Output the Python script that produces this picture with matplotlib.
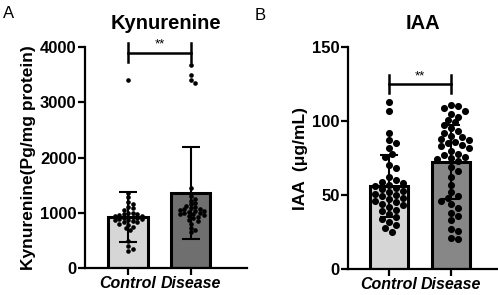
import numpy as np
import matplotlib
matplotlib.use("Agg")
import matplotlib.pyplot as plt

plt.rcParams['font.family'] = ['Liberation Sans', 'DejaVu Sans']

groups = ["Control", "Disease"]

# panel A - Kynurenine (Pg/mg protein)
kyn_mean = [920, 1355]
kyn_sd = [455, 830]
kyn_control = [3400, 1350, 1280, 1200, 1150, 1100, 1080, 1050, 1000, 990, 980, 970,
               960, 950, 940, 930, 920, 910, 900, 890, 880, 870, 860, 850, 840, 830,
               800, 780, 750, 720, 680, 480, 400, 350, 310]
kyn_disease = [3680, 3490, 3400, 3350, 1450, 1300, 1250, 1220, 1180, 1150, 1120, 1100,
               1080, 1070, 1060, 1050, 1040, 1030, 1020, 1000, 990, 980, 970, 960, 950,
               930, 900, 870, 850, 800, 720, 680, 650]

# panel B - IAA (ug/mL)
iaa_mean = [56, 72]
iaa_sd = [21, 25]
iaa_control = [113, 107, 92, 87, 85, 82, 78, 76, 70, 68, 62, 60, 59, 58, 57, 56, 55, 54,
               53, 52, 51, 50, 49, 48, 47, 46, 45, 44, 43, 42, 40, 39, 37, 35, 34, 32,
               30, 28, 25]
iaa_disease = [111, 110, 109, 107, 105, 103, 101, 99, 97, 95, 93, 92, 90, 89, 88, 87, 86,
               85, 84, 83, 82, 80, 78, 77, 76, 75, 74, 73, 69, 66, 62, 57, 52, 49, 48,
               46, 44, 41, 38, 36, 33, 27, 26, 21, 20]


def swarm(ax, x0, vals, diam, maxw):
    # simple deterministic swarm in pixel space
    pts = ax.transData.transform([(x0, v) for v in vals])
    placed = []
    xs = []
    step = diam * 0.5
    cands = [0.0]
    k = 1
    while k * step <= maxw:
        cands += [k * step, -k * step]
        k += 1
    for px, py in pts:
        best = None
        bestd = -1
        for c in cands:
            d = min([np.hypot(c - qx, py - qy) for qx, qy in placed] + [1e9])
            if d >= diam * 0.85:
                best = c
                break
            if d > bestd:
                bestd = d
                bestc = c
        if best is None:
            best = bestc
        placed.append((best, py))
        xs.append(best)
    out = []
    for (px, py), dx in zip(pts, xs):
        out.append(ax.transData.inverted().transform((px + dx, py))[0])
    return out


def panel(ax, means, sds, pts, colors, ylim, yticks, ylabel, title, xlim, width, msize,
          diam, maxw, sig_y, sig_h):
    ax.set_xlim(*xlim)
    ax.set_ylim(*ylim)
    x = np.arange(len(groups))
    ax.bar(x, means, width=width, color=colors, edgecolor="black", linewidth=2.2,
           zorder=2)
    fig.canvas.draw()
    for i, vals in enumerate(pts):
        xs = swarm(ax, x[i], vals, diam, maxw)
        ax.scatter(xs, vals, s=msize, color="black", linewidths=0, zorder=3)
    ax.errorbar(x, means, yerr=sds, fmt="none", ecolor="black", elinewidth=1.5,
                capsize=6.5, capthick=1.5, zorder=4)
    ax.plot([0, 0], [sig_y + sig_h, sig_y - sig_h], color="black", lw=1.8, clip_on=False)
    ax.plot([1, 1], [sig_y + sig_h, sig_y - sig_h], color="black", lw=1.8, clip_on=False)
    ax.plot([0, 1], [sig_y, sig_y], color="black", lw=1.8, clip_on=False)
    ax.text(0.5, sig_y + sig_h * 0.2, "**", ha="center", va="bottom", fontsize=9.5)
    ax.set_xticks(x)
    ax.set_xticklabels(groups, fontsize=11.5, fontweight="bold", fontstyle="italic")
    ax.set_yticks(yticks)
    ax.set_yticklabels([str(t) for t in yticks], fontsize=12, fontweight="bold")
    ax.set_ylabel(ylabel, fontsize=12.5, fontweight="bold", labelpad=3)
    ax.set_title(title, fontsize=14.5, fontweight="bold", pad=13)
    for s in ["top", "right"]:
        ax.spines[s].set_visible(False)
    for s in ["left", "bottom"]:
        ax.spines[s].set_linewidth(1.6)
    ax.tick_params(width=1.6, length=5, pad=1)


fig = plt.figure(figsize=(4.98, 2.95), dpi=100)
axA = fig.add_axes([85 / 498, 27 / 295, 162 / 498, 221 / 295])
axB = fig.add_axes([348 / 498, 26 / 295, 149 / 498, 222 / 295])

panel(axA, kyn_mean, kyn_sd, [kyn_control, kyn_disease], ["#d6d6d6", "#6f6f6f"],
      (0, 4000), [0, 1000, 2000, 3000, 4000], "Kynurenine(Pg/mg protein)", "Kynurenine",
      (-0.683, 1.89), 0.62, 11, 4.5, 18, 3900, 180)
panel(axB, iaa_mean, iaa_sd, [iaa_control, iaa_disease], ["#d6d6d6", "#878787"],
      (0, 150), [0, 50, 100, 150], "IAA  (\u03bcg/mL)", "IAA",
      (-0.66, 1.74), 0.62, 26, 7.0, 18, 125, 6)

fig.text(3 / 498, 1 - 14 / 295, "A", fontsize=12, va="center", ha="left")
fig.text(255 / 498, 1 - 15 / 295, "B", fontsize=12, va="center", ha="left")

fig.savefig("out.png", dpi=100)
